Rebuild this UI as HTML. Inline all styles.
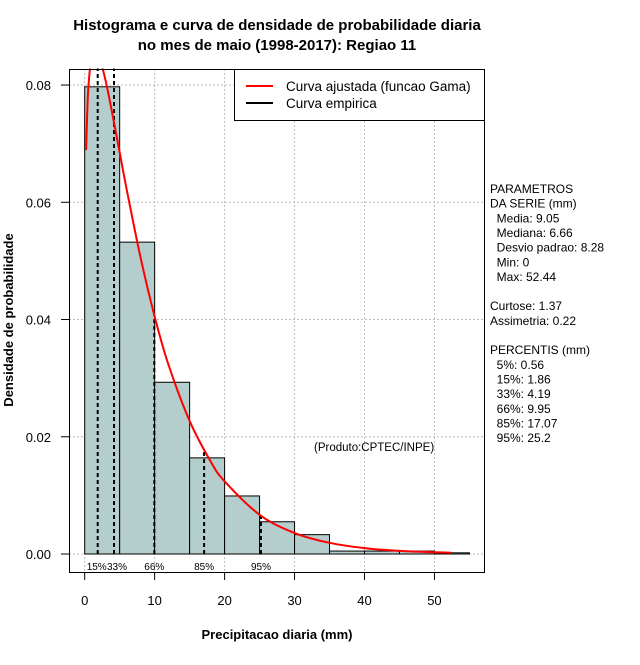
<!DOCTYPE html>
<html><head><meta charset="utf-8"><style>
body{margin:0;background:#fff;width:640px;height:660px;overflow:hidden}
svg{font-family:"Liberation Sans",sans-serif}
</style></head><body>
<svg id="chart" width="640" height="660" xmlns="http://www.w3.org/2000/svg"></svg>
<script>
const binStarts=[0,5,10,15,20,25,30,35,40,45,50];
const binDensity=[0.0797,0.0532,0.0293,0.0164,0.0099,0.0055,0.0033,0.0005,0.0005,0.0005,0.0002];
const curveX=[0.2,0.5,1,1.5,2,3,4,5,6,8,10,12,15,18,20,25,30,35,40,45,52.44];
const curveY=[0.0689,0.0792,0.0848,0.0859,0.0851,0.0807,0.0748,0.0685,0.0622,0.0505,0.0405,0.0322,0.0227,0.0158,0.0124,0.00669,0.00358,0.00191,0.00101,0.00054,0.000206];
const pctValues=[1.86,4.19,9.95,17.07,25.2];
const pctLabels=["15%","33%","66%","85%","95%"];
const xTicks=[0,10,20,30,40,50];
const yTicks=[0,0.02,0.04,0.06,0.08];
const yTickLabels=["0.00","0.02","0.04","0.06","0.08"];
const binWidth=5;

const NS="http://www.w3.org/2000/svg";
const svg=document.getElementById('chart');
const X=v=>84.7+6.995*v;
const Y=v=>554-5862*v;
function mk(tag,attrs,text){const e=document.createElementNS(NS,tag);for(const k in attrs)e.setAttribute(k,attrs[k]);if(text!==undefined)e.textContent=text;svg.appendChild(e);return e;}
function lerpCurve(x){for(let i=0;i<curveX.length-1;i++){if(x>=curveX[i]&&x<=curveX[i+1]){const t=(x-curveX[i])/(curveX[i+1]-curveX[i]);return curveY[i]+t*(curveY[i+1]-curveY[i]);}}return 0;}

// grid
xTicks.forEach(t=>{const g=mk('line',{x1:X(t),x2:X(t),y1:69,y2:573,stroke:'#bbb','stroke-dasharray':'2,2'});

});
yTicks.forEach(t=>{const g=mk('line',{x1:69,x2:484,y1:Y(t),y2:Y(t),stroke:'#bbb','stroke-dasharray':'2,2'});

});

// bars
binStarts.forEach((b,i)=>{const r=mk('rect',{x:X(b),y:Y(binDensity[i]),width:X(b+binWidth)-X(b),height:Y(0)-Y(binDensity[i]),fill:'#b4cdcd',stroke:'#000','stroke-width':1});

});

// percentile lines
pctValues.forEach((p,i)=>{const top=p<6?Y(0.095):Y(lerpCurve(p));
const l=mk('line',{x1:X(p),x2:X(p),y1:554,y2:top,stroke:'#000','stroke-width':2,'stroke-dasharray':'4,3'});


const dx=i===0?-1:(i===1?3:0);
const tx=mk('text',{x:X(p)+dx,y:570,'font-size':10,'text-anchor':'middle'},pctLabels[i]);

});

// smooth curve (Catmull-Rom through data points)
const pts=curveX.map((x,i)=>[X(x),Y(curveY[i])]);
let d='M'+pts[0][0]+','+pts[0][1];
for(let i=0;i<pts.length-1;i++){
  const p0=pts[Math.max(0,i-1)],p1=pts[i],p2=pts[i+1],p3=pts[Math.min(pts.length-1,i+2)];
  const c1=[p1[0]+(p2[0]-p0[0])/6,p1[1]+(p2[1]-p0[1])/6];
  const c2=[p2[0]-(p3[0]-p1[0])/6,p2[1]-(p3[1]-p1[1])/6];
  d+=' C'+c1[0]+','+c1[1]+' '+c2[0]+','+c2[1]+' '+p2[0]+','+p2[1];
}
const cp=mk('path',{d:d,fill:'none',stroke:'#f00','stroke-width':2});



const cov=mk('rect',{x:69,y:0,width:420,height:68.5,fill:'#fff'});



const bx=mk('rect',{x:69.5,y:69.5,width:415,height:503,fill:'none',stroke:'#000'});



xTicks.forEach(t=>{const l=mk('line',{x1:X(t),x2:X(t),y1:573,y2:580,stroke:'#000'});


const tx=mk('text',{x:X(t),y:605,'font-size':13,'text-anchor':'middle'},String(t));

});
yTicks.forEach((t,i)=>{const l=mk('line',{x1:61,x2:69,y1:Y(t),y2:Y(t),stroke:'#000'});


const tx=mk('text',{x:51,y:Y(t)+5,'font-size':13,'text-anchor':'end'},yTickLabels[i]);

});

const t1=mk('text',{x:277,y:30,'font-size':15,'font-weight':'bold','text-anchor':'middle'},'Histograma e curva de densidade de probabilidade diaria');


const t2=mk('text',{x:277,y:50,'font-size':15,'font-weight':'bold','text-anchor':'middle'},'no mes de maio (1998-2017): Regiao 11');


const xl=mk('text',{x:277,y:639,'font-size':13,'font-weight':'bold','text-anchor':'middle'},'Precipitacao diaria (mm)');


const yl=mk('text',{x:0,y:0,'font-size':13,'font-weight':'bold','text-anchor':'middle',transform:'translate(13,320) rotate(-90)'},'Densidade de probabilidade');



const lg=mk('rect',{x:234.5,y:69.5,width:250,height:51,fill:'#fff',stroke:'#000'});


const l1=mk('line',{x1:246,x2:273,y1:86,y2:86,stroke:'#f00','stroke-width':2});


const lt1=mk('text',{x:286,y:91,'font-size':13.5},'Curva ajustada (funcao Gama)');


const l2=mk('line',{x1:246,x2:273,y1:103,y2:103,stroke:'#000','stroke-width':2});


const lt2=mk('text',{x:286,y:108,'font-size':13.5},'Curva empirica');



const src=mk('text',{x:314,y:451,'font-size':11.5},'(Produto:CPTEC/INPE)');



const side=["PARAMETROS","DA SERIE (mm)","  Media: 9.05","  Mediana: 6.66","  Desvio padrao: 8.28","  Min: 0","  Max: 52.44","","Curtose: 1.37","Assimetria: 0.22","","PERCENTIS (mm)","  5%: 0.56","  15%: 1.86","  33%: 4.19","  66%: 9.95","  85%: 17.07","  95%: 25.2"];
side.forEach((s,i)=>{if(!s)return;const tx=mk('text',{x:490,y:193+i*14.65,'font-size':12,'xml:space':'preserve'},s);
tx.style.whiteSpace='pre';

});
</script>
</body></html>
